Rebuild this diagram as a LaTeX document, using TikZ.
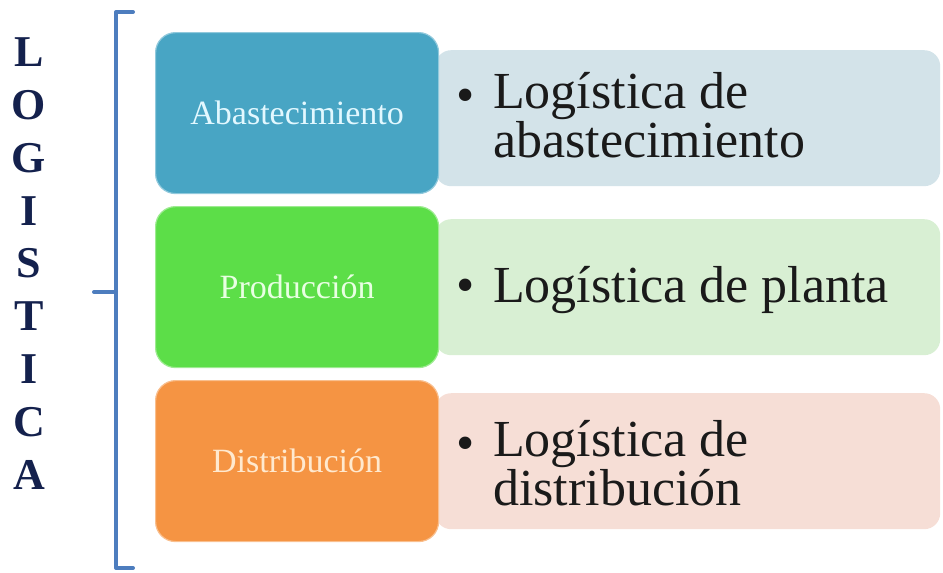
\documentclass[tikz,border=0pt]{standalone}
\usepackage{fontspec}
\setmainfont{Liberation Serif}
\definecolor{brk}{HTML}{4D7DBE}
\definecolor{navy}{HTML}{14214D}
\definecolor{cA}{HTML}{48A5C4}
\definecolor{cB}{HTML}{5CDE48}
\definecolor{cC}{HTML}{F59443}
\definecolor{rA}{HTML}{D3E3E9}
\definecolor{rB}{HTML}{D8EFD3}
\definecolor{rC}{HTML}{F6DED6}
\definecolor{tA}{HTML}{E2F8FF}
\definecolor{tB}{HTML}{E8FFE2}
\definecolor{tC}{HTML}{FFE9CF}
\definecolor{ink}{HTML}{1A1A1A}
\begin{document}
\begin{tikzpicture}[x=1pt,y=-1pt,
  letter/.style={font=\fontsize{44}{44}\selectfont\bfseries,text=navy,inner sep=0pt},
  leftbox/.style={rounded corners=20pt,minimum width=283pt,minimum height=161pt,inner sep=0pt,anchor=north west,font=\fontsize{34}{34}\selectfont,line width=1.2pt},
  rightbox/.style={rounded corners=16pt,minimum width=505pt,minimum height=136pt,inner sep=0pt,anchor=north west},
  item/.style={font=\fontsize{52}{45}\selectfont,text=ink,inner sep=0pt,anchor=base west,align=left},
  bul/.style={font=\fontsize{52}{52}\selectfont,text=ink,inner sep=0pt,anchor=base}]
\useasboundingbox (0,0) rectangle (943,573);
% bracket
\coordinate (b1) at (133,12);
\coordinate (b2) at (116,12);
\coordinate (b3) at (116,568);
\coordinate (b4) at (133,568);
\coordinate (bm) at (116,292);
\coordinate (bt) at (94,292);
\draw[brk,line width=4pt,line join=round,line cap=round] (b1) -- (b2) -- (b3) -- (b4);
\draw[brk,line width=4pt,line cap=round] (bm) -- (bt);
% vertical title
\foreach \c [count=\i] in {L,O,G,I,S,T,I,C,A}
  \node[letter] (l\i) at (29,{52+(\i-1)*52.9}) {\c};
% right boxes
\node[rightbox,fill=rA] (ra) at (435,50) {};
\node[rightbox,fill=rB] (rb) at (435,219) {};
\node[rightbox,fill=rC] (rc) at (435,393) {};
% left boxes
\node[leftbox,fill=cA,draw=cA!60!white,text=tA] (la) at (155,32) {Abastecimiento};
\node[leftbox,fill=cB,draw=cB!60!white,text=tB] (lb) at (155,206) {Producción};
\node[leftbox,fill=cC,draw=cC!60!white,text=tC] (lc) at (155,380) {Distribución};
% texts
\node[bul] (ba) at (466,112) {•};
\node[item] (ta) at (493,157) {Logística de\\abastecimiento};
\node[bul] (bb) at (466,302) {•};
\node[item] (tb) at (493,302) {Logística de planta};
\node[bul] (bc) at (466,460) {•};
\node[item] (tc) at (493,505) {Logística de\\distribución};
\end{tikzpicture}
\end{document}
